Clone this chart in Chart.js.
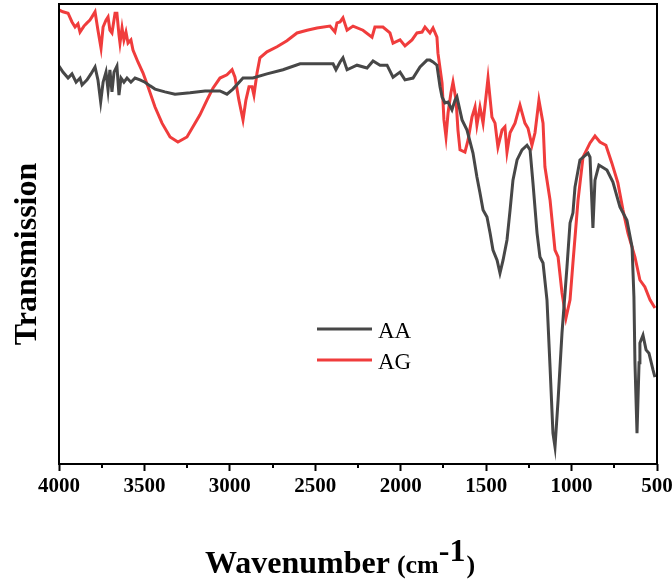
<!DOCTYPE html>
<html><head><meta charset="utf-8">
<script src="https://cdn.jsdelivr.net/npm/chart.js@4/dist/chart.umd.min.js"></script>
<style>html,body{margin:0;padding:0;background:#fff}#wrap{width:672px;height:586px}</style>
</head><body><div id="wrap"><canvas id="c" width="672" height="586"></canvas></div>
<script>
const seriesNames = ['AA', 'AG'];
const wnAA = [4000,3977,3947,3924,3900,3877,3865,3836,3813,3789,3772,3756,3742,3725,3713,3702,3690,3678,3661,3649,3637,3620,3602,3579,3555,3526,3497,3467,3438,3380,3321,3233,3145,3058,3017,2982,2923,2865,2783,2689,2589,2490,2396,2379,2355,2338,2314,2256,2197,2162,2121,2080,2045,2004,1975,1928,1887,1846,1829,1811,1788,1770,1758,1741,1723,1700,1682,1671,1641,1612,1577,1554,1536,1518,1495,1477,1460,1436,1419,1401,1378,1360,1343,1319,1290,1261,1243,1226,1202,1185,1167,1144,1126,1109,1097,1079,1056,1027,1009,992,980,951,904,892,875,863,840,793,758,717,676,646,635,629,617,605,600,582,564,547,523,512];
const tAA = [86.5,85.2,83.9,84.8,83.0,83.9,82.4,83.5,84.8,86.3,83.5,78.7,83.0,85.2,81.3,85.7,80.9,85.2,86.5,80.2,83.9,83.0,83.9,83.0,83.9,83.5,83.0,82.2,81.5,80.9,80.4,80.7,81.1,81.1,80.4,81.5,83.9,83.9,84.8,85.7,87.0,87.0,87.0,85.7,87.4,88.3,85.7,86.7,86.1,87.6,86.7,86.7,84.1,85.2,83.5,83.9,86.3,87.8,87.8,87.4,86.7,82.0,79.8,78.5,78.7,77.0,79.1,79.8,74.8,72.6,67.6,62.4,58.9,55.2,53.7,50.2,46.5,44.3,41.5,44.3,48.7,55.2,61.7,66.1,68.3,69.3,68.3,61.1,50.2,45.0,43.7,35.7,21.1,6.7,3.7,13.9,28.5,42.8,52.4,54.6,60.2,66.1,67.6,66.7,51.3,61.7,65.0,63.9,61.3,55.9,53.0,47.2,36.3,22.0,6.7,22.0,26.3,28.0,24.8,24.1,20.4,18.9];
const wnAG = [4000,3977,3947,3924,3906,3889,3877,3854,3836,3819,3807,3789,3772,3754,3742,3725,3713,3702,3690,3672,3661,3649,3643,3631,3620,3608,3596,3579,3567,3538,3508,3479,3438,3397,3350,3304,3251,3204,3175,3134,3099,3058,3017,2987,2970,2947,2923,2906,2888,2870,2859,2841,2824,2783,2724,2666,2607,2548,2490,2414,2385,2373,2355,2338,2314,2279,2221,2168,2151,2104,2063,2045,2004,1975,1934,1905,1875,1858,1829,1811,1788,1782,1758,1747,1735,1723,1706,1694,1676,1665,1653,1624,1606,1583,1565,1554,1536,1518,1489,1466,1448,1431,1407,1390,1378,1360,1331,1302,1273,1255,1232,1214,1191,1167,1156,1126,1097,1079,1056,1033,1009,992,962,933,892,863,834,799,764,729,699,670,629,600,571,541,512];
const tAG = [98.7,98.3,98.0,96.1,95.0,95.7,93.9,95.2,95.9,96.5,97.2,98.3,94.3,90.4,95.0,96.5,97.2,94.3,93.7,98.0,98.0,93.3,91.5,94.8,92.2,93.9,91.5,92.2,90.0,87.4,85.0,82.0,77.6,74.1,71.1,70.0,71.1,74.1,75.9,79.1,81.7,83.9,84.6,85.7,84.1,79.1,74.8,79.1,82.0,82.0,80.2,85.0,88.3,89.6,90.7,92.0,93.7,94.3,94.8,95.2,93.9,95.9,96.1,97.0,94.3,95.2,94.3,92.8,95.0,95.0,93.7,91.5,92.2,90.9,92.2,93.7,93.9,95.0,93.7,94.8,92.8,89.3,82.8,74.8,71.1,76.3,80.7,83.0,79.1,72.6,68.3,67.8,70.4,75.4,77.6,73.7,77.6,74.1,83.9,75.4,74.1,68.9,72.6,73.3,67.8,72.0,74.1,78.0,74.1,73.0,69.3,72.0,79.1,74.1,64.6,57.4,46.5,45.0,37.2,31.7,35.7,43.7,57.4,66.7,69.8,71.3,70.0,69.3,65.4,61.1,55.2,50.2,45.0,40.0,38.5,35.7,33.9];
const majorTicks = [4000,3500,3000,2500,2000,1500,1000,500];
const minorTicks = [3750,3250,2750,2250,1750,1250,750];
const xTitleMain = 'Wavenumber';
const xTitleUnit = '(cm';
const xTitleSup = '-1';
const xTitleClose = ')';
const yTitle = 'Transmission';

const SERIF = "'Liberation Serif','Times New Roman',serif";
const toXY = (xs, ys) => xs.map((x, i) => ({x: x, y: ys[i]}));

const framePlugin = {
  id: 'frame',
  afterDraw(chart) {
    const ctx = chart.ctx, a = chart.chartArea, xs = chart.scales.x;
    ctx.save();
    ctx.strokeStyle = '#000';
    ctx.lineWidth = 2;
    ctx.strokeRect(a.left, a.top, a.right - a.left, a.bottom - a.top);
    minorTicks.forEach(v => {
      const px = Math.round(xs.getPixelForValue(v));
      ctx.beginPath(); ctx.moveTo(px, a.bottom); ctx.lineTo(px, a.bottom + 4); ctx.stroke();
    });
    // legend
    ctx.font = '23px ' + SERIF;
    ctx.textBaseline = 'alphabetic';
    ctx.fillStyle = '#000';
    const lx0 = 317, lx1 = 372, ly = [329, 360];
    chart.data.datasets.forEach((ds, i) => {
      ctx.strokeStyle = ds.borderColor; ctx.lineWidth = 3;
      ctx.beginPath(); ctx.moveTo(lx0, ly[i]); ctx.lineTo(lx1, ly[i]); ctx.stroke();
      ctx.fillText(ds.label, 378, ly[i] + 9);
    });
    // x title
    let x = 205; const by = 573;
    ctx.font = 'bold 32px ' + SERIF;
    ctx.fillText(xTitleMain, x, by); x += ctx.measureText(xTitleMain + ' ').width - 1;
    ctx.font = 'bold 26px ' + SERIF;
    ctx.fillText(xTitleUnit, x, by); x += ctx.measureText(xTitleUnit).width;
    ctx.font = 'bold 32px ' + SERIF;
    ctx.fillText(xTitleSup, x, by - 12); x += ctx.measureText(xTitleSup).width + 1;
    ctx.font = 'bold 26px ' + SERIF;
    ctx.fillText(xTitleClose, x, by);
    // y title
    ctx.save();
    ctx.translate(36, 254);
    ctx.rotate(-Math.PI / 2);
    ctx.font = 'bold 32px ' + SERIF;
    ctx.textAlign = 'center';
    ctx.fillText(yTitle, 0, 0);
    ctx.restore();
    ctx.restore();
  }
};

new Chart(document.getElementById('c'), {
  type: 'line',
  data: {
    datasets: [
      {label: seriesNames[0], data: toXY(wnAA, tAA), borderColor: '#474747', borderWidth: 3, pointRadius: 0, tension: 0, fill: false},
      {label: seriesNames[1], data: toXY(wnAG, tAG), borderColor: '#f03c3c', borderWidth: 3, pointRadius: 0, tension: 0, fill: false}
    ]
  },
  options: {
    responsive: false,
    animation: false,
    devicePixelRatio: 1,
    layout: {padding: {top: 4, right: 0, bottom: 0, left: 0}},
    plugins: {legend: {display: false}, tooltip: {enabled: false}},
    scales: {
      x: {
        type: 'linear', reverse: true, min: 500, max: 4000,
        afterBuildTicks: (s) => { s.ticks = majorTicks.map(v => ({value: v})); },
        afterFit: (s) => { s.height = 122; s.paddingRight = 15; s.paddingLeft = 0; },
        ticks: {color: '#000', font: {family: SERIF, size: 21, weight: 'bold'}, padding: 3, maxRotation: 0, autoSkip: false, callback: v => String(v)},
        grid: {display: true, drawOnChartArea: false, drawTicks: true, tickLength: 7, tickWidth: 2, color: '#000'},
        border: {display: false}
      },
      y: {
        min: 0, max: 100,
        afterFit: (s) => { s.width = 59; },
        ticks: {display: false},
        grid: {display: false},
        border: {display: false}
      }
    }
  },
  plugins: [framePlugin]
});
</script>
</body></html>
